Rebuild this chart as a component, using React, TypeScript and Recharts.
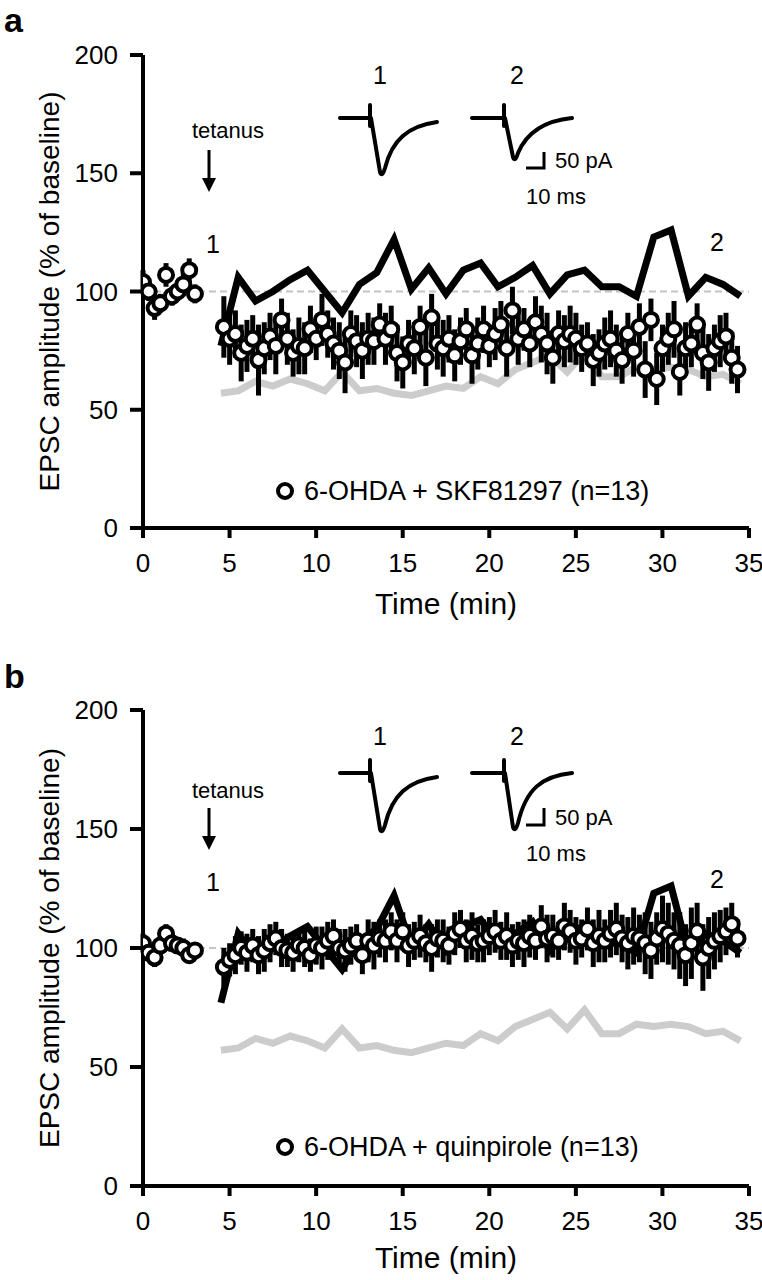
import React from 'react';
import { ComposedChart, Line, Scatter, ErrorBar, XAxis, YAxis, ReferenceLine, Customized } from 'recharts';

const FONT = '"Liberation Sans", Arial, Helvetica, sans-serif';

const xTicks = [0, 5, 10, 15, 20, 25, 30, 35];
const yTicks = [0, 50, 100, 150, 200];

const baselineTimes = [0, 0.33, 0.67, 1, 1.33, 1.67, 2, 2.33, 2.67, 3];
const baselineA = [104, 100, 93, 95, 107, 98, 100, 103, 109, 99];
const baselineErrA = [5, 4, 5, 4, 5, 4, 4, 5, 5, 4];
const baselineB = [102, 98, 96, 101, 106, 102, 101, 100, 97, 99];
const baselineErrB = [4, 3, 4, 3, 4, 3, 3, 4, 3, 3];

const postStart = 4.67;
const postStep = 1 / 3;

const postA = [
  85, 80, 82, 74, 77, 80, 71, 76, 81, 77,
  88, 80, 74, 77, 76, 84, 80, 88, 82, 78,
  75, 70, 82, 79, 75, 80, 79, 86, 80, 84,
  74, 70, 78, 76, 85, 72, 89, 78, 76, 80,
  73, 79, 84, 73, 78, 84, 77, 82, 86, 76,
  92, 80, 84, 78, 87, 82, 78, 72, 82, 79,
  82, 80, 76, 78, 71, 74, 78, 80, 75, 71,
  82, 75, 85, 67, 88, 63, 76, 80, 84, 66,
  76, 78, 86, 74, 70, 76, 79, 81, 72, 67,
];
const postErrA = [
  13, 11, 10, 12, 11, 10, 15, 11, 10, 12,
  9, 11, 10, 12, 11, 10, 9, 11, 10, 11,
  12, 13, 10, 11, 12, 11, 10, 9, 11, 10,
  12, 11, 10, 11, 9, 12, 10, 11, 12, 10,
  11, 10, 9, 12, 11, 10, 9, 11, 10, 12,
  10, 11, 9, 10, 11, 12, 13, 11, 10, 11,
  12, 11, 10, 9, 11, 10, 11, 12, 11, 10,
  9, 11, 10, 12, 9, 11, 10, 11, 12, 10,
  11, 10, 9, 11, 12, 10, 11, 10, 11, 10,
];
const postB = [
  92, 95, 97, 100, 98, 101, 97, 99, 102, 104,
  100, 99, 98, 101, 100, 97, 101, 100, 103, 105,
  100, 99, 101, 103, 97, 103, 101, 104, 103, 107,
  103, 107, 101, 103, 105, 102, 100, 104, 103, 101,
  106, 108, 103, 105, 102, 103, 105, 107, 103, 105,
  101, 103, 102, 105, 103, 109, 104, 105, 103, 109,
  107, 103, 104, 108, 102, 105, 103, 106, 108, 104,
  102, 105, 104, 102, 99, 104, 108, 106, 103, 101,
  97, 102, 107, 96, 100, 103, 105, 107, 110, 104,
];
const postErrB = [
  8, 7, 8, 7, 8, 7, 8, 9, 8, 7,
  8, 7, 8, 7, 8, 7, 8, 9, 8, 7,
  8, 9, 8, 7, 8, 9, 10, 8, 9, 8,
  9, 8, 9, 8, 9, 8, 10, 8, 9, 8,
  9, 8, 9, 10, 8, 9, 8, 9, 8, 10,
  9, 8, 10, 9, 8, 9, 10, 9, 8, 10,
  9, 10, 8, 9, 10, 11, 9, 10, 11, 10,
  11, 12, 10, 13, 12, 11, 14, 13, 12, 14,
  13, 15, 12, 14, 13, 12, 11, 10, 9, 8,
];

const controlTimes = [4.5, 5.5, 6.5, 7.5, 8.5, 9.5, 10.5, 11.5, 12.5, 13.5, 14.5, 15.5, 16.5, 17.5, 18.5, 19.5, 20.5, 21.5, 22.5, 23.5, 24.5, 25.5, 26.5, 27.5, 28.5, 29.5, 30.5, 31.5, 32.5, 33.5, 34.5];
const blackLine = [77, 106, 96, 100, 105, 109, 100, 91, 103, 108, 122, 101, 110, 99, 109, 112, 102, 106, 111, 99, 107, 109, 102, 102, 98, 123, 126, 98, 106, 103, 98];
const grayLine = [57, 58, 62, 60, 63, 61, 58, 66, 58, 59, 57, 56, 58, 60, 59, 64, 61, 67, 70, 73, 66, 74, 64, 64, 68, 67, 68, 67, 64, 65, 61];

const buildPoints = (base: number[], baseErr: number[], post: number[], postErr: number[]) => [
  ...baselineTimes.map((t, i) => ({ x: t, y: base[i], err: baseErr[i] })),
  ...post.map((v, i) => ({ x: postStart + i * postStep, y: v, err: postErr[i] })),
];
const pointsA = buildPoints(baselineA, baselineErrA, postA, postErrA);
const pointsB = buildPoints(baselineB, baselineErrB, postB, postErrB);
const blackData = controlTimes.map((t, i) => ({ x: t, y: blackLine[i] }));
const grayData = controlTimes.map((t, i) => ({ x: t, y: grayLine[i] }));

const circleShape = (p: any) => (
  <circle cx={p.cx} cy={p.cy} r={7} fill="#fff" stroke="#000" strokeWidth={4} />
);
const noShape = () => <g />;

type AnnoProps = {
  letter: string; letterY: number; tetY: number; arrowTop: number; arrowBot: number;
  oneY: number; twoY: number; insetLabelY: number; traceY: number; trough1: number; trough2: number;
  barTop: number; barBot: number; legendY: number; legendText: string;
};

const makeAnnotations = (a: AnnoProps) => () => (
  <g fontFamily={FONT} fill="#000">
    <text x={4} y={a.letterY} fontSize={34} fontWeight="bold">{a.letter}</text>
    <text x={228} y={a.tetY} fontSize={22} textAnchor="middle">tetanus</text>
    <line x1={209} x2={209} y1={a.arrowTop} y2={a.arrowBot - 12} stroke="#000" strokeWidth={3} />
    <polygon points={`${202},${a.arrowBot - 14} ${216},${a.arrowBot - 14} ${209},${a.arrowBot}`} fill="#000" />
    <text x={213} y={a.oneY} fontSize={25} textAnchor="middle">1</text>
    <text x={717} y={a.twoY} fontSize={25} textAnchor="middle">2</text>
    <text x={380} y={a.insetLabelY} fontSize={25} textAnchor="middle">1</text>
    <text x={517} y={a.insetLabelY} fontSize={25} textAnchor="middle">2</text>
    <g fill="none" stroke="#000" strokeWidth={4} strokeLinecap="round" strokeLinejoin="round">
      <path d={`M340,${a.traceY} L368,${a.traceY} M370,${a.traceY - 13} L370,${a.traceY + 8} M371,${a.traceY} L380,${a.trough1 - 4} Q382,${a.trough1 + 2} 385,${a.trough1 - 8} C392,${a.traceY + 22} 408,${a.traceY + 8} 437,${a.traceY + 4}`} />
      <path d={`M472,${a.traceY} L502,${a.traceY} M504,${a.traceY - 13} L504,${a.traceY + 8} M505,${a.traceY} L513,${a.trough2 - 4} Q515,${a.trough2 + 2} 518,${a.trough2 - 8} C526,${a.traceY + 16} 542,${a.traceY + 3} 572,${a.traceY}`} />
    </g>
    <path d={`M544,${a.barTop} L544,${a.barBot} L526,${a.barBot}`} fill="none" stroke="#000" strokeWidth={3} />
    <text x={555} y={a.barBot} fontSize={22}>50 pA</text>
    <text x={526} y={a.barBot + 36} fontSize={22}>10 ms</text>
    <circle cx={285} cy={a.legendY} r={7} fill="#fff" stroke="#000" strokeWidth={4} />
    <text x={304} y={a.legendY + 9} fontSize={27}>{a.legendText}</text>
  </g>
);

const annoA = makeAnnotations({
  letter: 'a', letterY: 32, tetY: 138, arrowTop: 150, arrowBot: 192, oneY: 253, twoY: 251,
  insetLabelY: 84, traceY: 118, trough1: 176, trough2: 161, barTop: 152, barBot: 168,
  legendY: 491, legendText: '6-OHDA + SKF81297 (n=13)',
});
const annoB = makeAnnotations({
  letter: 'b', letterY: 48, tetY: 158, arrowTop: 168, arrowBot: 210, oneY: 251, twoY: 248,
  insetLabelY: 105, traceY: 133, trough1: 193, trough2: 191, barTop: 168, barBot: 185,
  legendY: 507, legendText: '6-OHDA + quinpirole (n=13)',
});

const axisStroke = { stroke: '#000', strokeWidth: 4 };
const tickStyle = { fill: '#000', fontSize: 26, fontFamily: FONT };

const Panel = ({ points, top, xHeight, titleOffset, anno }: { points: any[]; top: number; xHeight: number; titleOffset: number; anno: any }) => (
  <ComposedChart width={762} height={640} margin={{ top, right: 13, left: 0, bottom: 0 }}>
    <XAxis
      type="number" dataKey="x" domain={[0, 35]} ticks={xTicks} allowDataOverflow
      axisLine={axisStroke} tickLine={axisStroke} tickSize={10} tickMargin={16}
      tick={tickStyle} height={xHeight}
      label={{ value: 'Time (min)', position: 'insideBottom', offset: titleOffset, style: { fill: '#000', fontSize: 30, fontFamily: FONT } }}
    />
    <YAxis
      type="number" domain={[0, 200]} ticks={yTicks} width={143}
      axisLine={axisStroke} tickLine={axisStroke} tickSize={13} tickMargin={12}
      tick={tickStyle}
      label={{ value: 'EPSC amplitude (% of baseline)', angle: -90, position: 'center', dx: -22, style: { fill: '#000', fontSize: 28, fontFamily: FONT, textAnchor: 'middle' } }}
    />
    <ReferenceLine y={100} stroke="#c4c4c4" strokeDasharray="7 4" strokeWidth={2} ifOverflow="extendDomain" />
    <Line data={grayData} dataKey="y" type="linear" stroke="#cccccc" strokeWidth={7} dot={false} isAnimationActive={false} />
    <Scatter data={points} dataKey="y" shape={noShape} isAnimationActive={false}>
      <ErrorBar dataKey="err" direction="y" width={0} stroke="#000" strokeWidth={5} />
    </Scatter>
    <Line data={blackData} dataKey="y" type="linear" stroke="#000" strokeWidth={7} dot={false} isAnimationActive={false} />
    <Scatter data={points} dataKey="y" shape={circleShape} isAnimationActive={false} />
    <Customized component={anno} />
  </ComposedChart>
);

export default function App() {
  return (
    <div style={{ position: 'absolute', left: 0, top: 0, width: 762, height: 1280, background: '#fff' }}>
      <Panel points={pointsA} top={55} xHeight={112} titleOffset={26} anno={annoA} />
      <Panel points={pointsB} top={70} xHeight={94} titleOffset={12} anno={annoB} />
    </div>
  );
}
